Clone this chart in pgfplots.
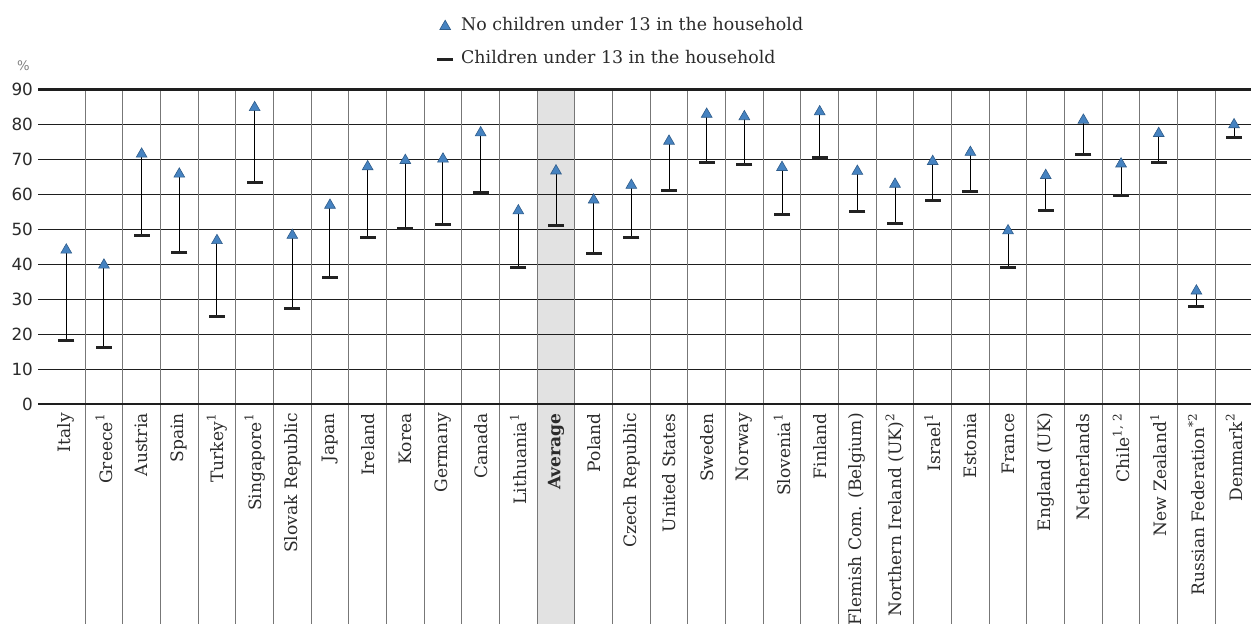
\documentclass[border=0pt]{standalone}
\usepackage{fontspec}
\setmainfont{DejaVu Serif}
\newfontfamily\ticksans{DejaVu Sans}
\usepackage{pgfplots}
\pgfplotsset{compat=1.18}
\usepackage{pgfplotstable}

\definecolor{triblue}{HTML}{4683C1}
\definecolor{triedge}{HTML}{2F5C8A}
\definecolor{vgrid}{HTML}{777777}
\definecolor{hgrid}{HTML}{1E1E1E}
\definecolor{avgfill}{HTML}{E2E2E2}
\definecolor{dashc}{HTML}{222222}
\definecolor{txt}{HTML}{2B2B2B}

\pgfplotstableread{
x lo hi
0 18.2 44.1
1 16.3 39.8
2 48.2 71.5
3 43.5 65.8
4 25.1 46.8
5 63.3 84.8
6 27.3 48.3
7 36.1 56.9
8 47.6 67.9
9 50.3 69.7
10 51.3 70.1
11 60.5 77.6
12 39.1 55.3
13 51.2 66.7
14 43.1 58.4
15 47.8 62.6
16 61.1 75.2
17 69.0 82.9
18 68.6 82.2
19 54.3 67.7
20 70.5 83.6
21 55.0 66.6
22 51.6 62.9
23 58.3 69.4
24 60.9 72.0
25 39.0 49.6
26 55.3 65.4
27 71.3 81.2
28 59.8 68.7
29 69.0 77.4
30 27.9 32.4
31 76.2 79.9
}\datatable

\begin{document}
\begin{tikzpicture}
\begin{axis}[
  set layers,
  scale only axis,
  width=606.35pt, height=157.5pt,
  xmin=-0.743, xmax=31.45, ymin=0, ymax=90,
  clip=false,
  axis line style={draw=none},
  major tick length=0pt,
  tick style={draw=none},
  xtick={0,...,31},
  xticklabels={Italy, Greece\textsuperscript{1}, Austria, Spain, Turkey\textsuperscript{1}, Singapore\textsuperscript{1}, Slovak Republic, Japan, Ireland, Korea, Germany, Canada, Lithuania\textsuperscript{1}, {\bfseries Average}, Poland, Czech Republic, United States, Sweden, Norway, Slovenia\textsuperscript{1}, Finland, Flemish Com. (Belgium), Northern Ireland (UK)\textsuperscript{2}, Israel\textsuperscript{1}, Estonia, France, England (UK), Netherlands, {Chile\textsuperscript{1, 2}}, New Zealand\textsuperscript{1}, Russian Federation\textsuperscript{*2}, Denmark\textsuperscript{2}},
  xticklabel style={rotate=90, anchor=east, inner xsep=4.3pt, inner ysep=0pt, font=\fontsize{8.55}{10}\selectfont, text=txt},
  ytick={0,10,...,90},
  yticklabel style={anchor=east, inner sep=0pt, xshift=-2.5pt, font=\ticksans\fontsize{8.4}{10}\selectfont, text=txt},
  /pgf/number format/assume math mode=true,
  ymajorgrids,
  grid style={line width=0.6pt, color=hgrid},
  legend style={at={(axis description cs:0.320,1.054)}, anchor=south west, draw=none, fill=none,
    font=\fontsize{8.7}{10}\selectfont, text=txt, row sep=8pt,
    nodes={inner sep=0pt, text height=6.5pt, text depth=2pt}},
  legend cell align=left,
  legend image code/.code={\path (-2pt,0pt) (11.8pt,0pt); \draw[mark repeat=2,mark phase=2,#1] plot coordinates {(0pt,0pt) (4pt,0pt) (8pt,0pt)};},
]
\begin{pgfonlayer}{axis background}
\fill[avgfill] (axis cs:12.5,90) rectangle (axis cs:13.5,-80);
\end{pgfonlayer}
\pgfplotsinvokeforeach{0,...,30}{
  \draw[vgrid, line width=0.5pt] (axis cs:#1+0.5,90) -- (axis cs:#1+0.5,-80);
}
\draw[hgrid, line width=1.2pt] (rel axis cs:0,0) -- (rel axis cs:1,0);
\draw[hgrid, line width=1.3pt] (rel axis cs:0,1) -- (rel axis cs:1,1);
\node[font=\ticksans\fontsize{6.6}{8}\selectfont, text=gray] at ([xshift=-7.5pt, yshift=12pt]rel axis cs:0,1) {\%};

\addplot[draw=none, mark=none, forget plot,
  error bars/.cd, y dir=plus, y explicit, error mark=none,
  error bar style={draw=black, line width=0.5pt}]
  table[x=x, y=lo, y error expr=\thisrow{hi}-\thisrow{lo}] {\datatable};

\addplot[only marks, mark=triangle*, mark size=3.1pt,
  mark options={fill=triblue, draw=triedge, line width=0.3pt}]
  table[x=x, y=hi] {\datatable};
\addlegendentry{No children under 13 in the household}

\addplot[only marks, mark=-, mark size=4pt,
  mark options={draw=dashc, line width=1.5pt}]
  table[x=x, y=lo] {\datatable};
\addlegendentry{Children under 13 in the household}
\end{axis}
\pgfresetboundingbox
\useasboundingbox (-19.15pt,-109.85pt) rectangle (606.35pt,202.15pt);
\end{tikzpicture}
\end{document}
